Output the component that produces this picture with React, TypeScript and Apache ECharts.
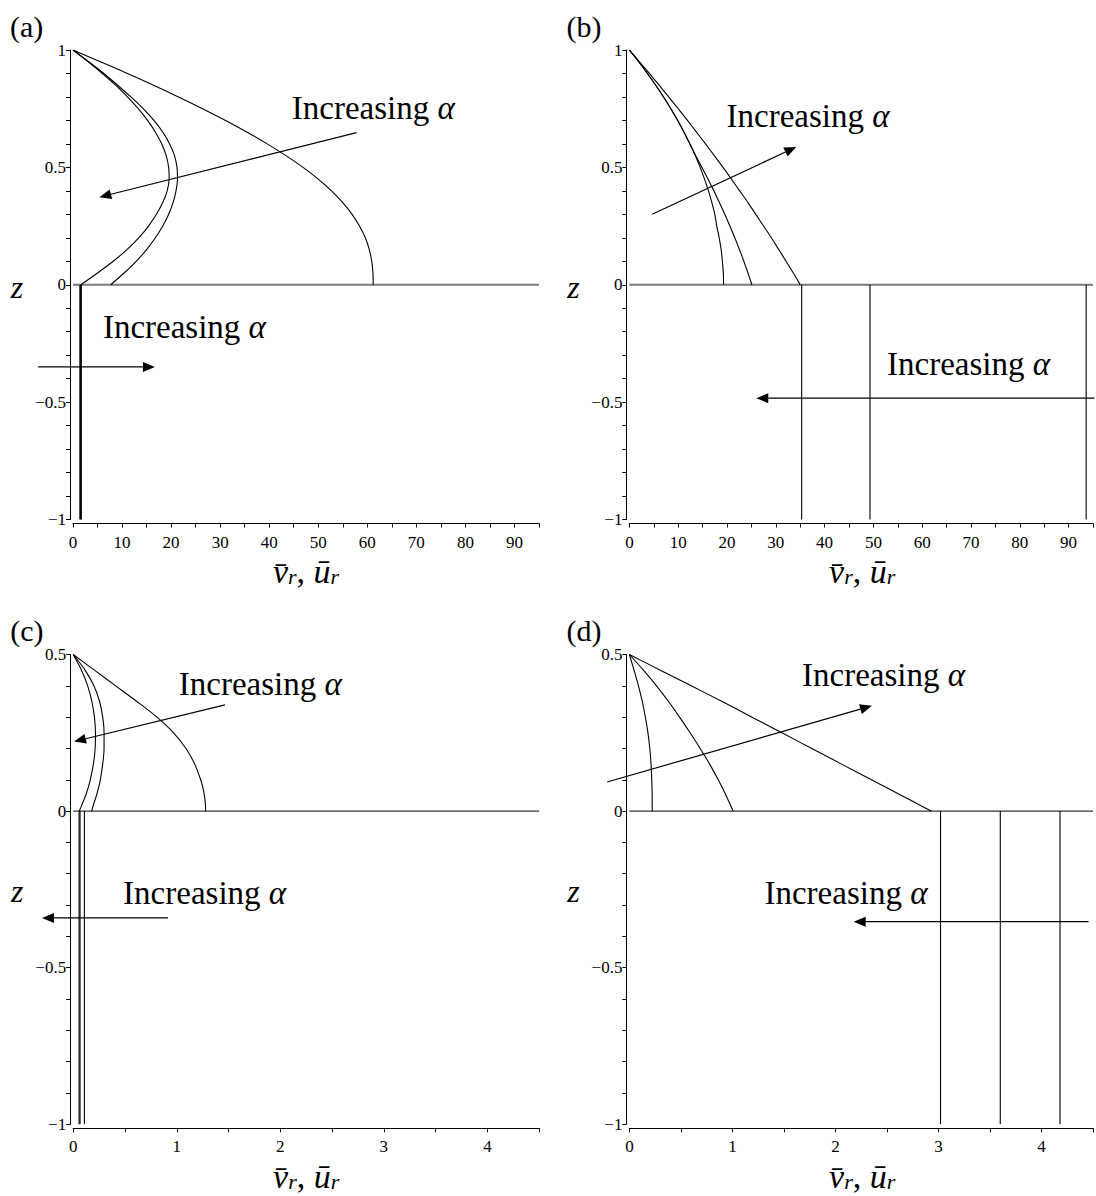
import React, { useEffect, useRef } from "react";
import * as echarts from "echarts";

const SERIF = "Liberation Serif, DejaVu Serif, serif";

// Heights at which the upper-layer profiles are sampled
const zUpperAB = [0, 0.05, 0.1, 0.15, 0.2, 0.25, 0.3, 0.35, 0.4, 0.45, 0.5, 0.55, 0.6, 0.65, 0.7, 0.75, 0.8, 0.85, 0.9, 0.95, 1];
const zUpperCD = [0, 0.025, 0.05, 0.075, 0.1, 0.15, 0.2, 0.25, 0.3, 0.35, 0.4, 0.45, 0.5];

// (a) upper-layer profiles, v at each zUpperAB
const aProfile1 = [1.6, 5.0, 8.2, 11.0, 13.4, 15.4, 17.0, 18.3, 19.2, 19.6, 19.5, 19.0, 18.1, 16.8, 15.2, 13.3, 11.1, 8.7, 6.0, 3.1, 0];
const aProfile2 = [7.7, 10.4, 12.9, 15.0, 16.8, 18.3, 19.5, 20.4, 21.0, 21.3, 21.2, 20.7, 19.7, 18.3, 16.5, 14.3, 11.8, 9.1, 6.3, 3.2, 0];
const aProfile3 = [61.2, 61.15, 60.9, 60.4, 59.6, 58.4, 56.9, 55.0, 52.7, 50.0, 46.9, 43.4, 39.6, 35.5, 31.1, 26.4, 21.5, 16.4, 11.1, 5.6, 0];
// (a) lower-layer (uniform) values
const aLower = [1.4, 1.55, 1.7];

// (b)
const bProfile1 = [19.3, 19.25, 19.05, 18.8, 18.4, 17.9, 17.5, 16.9, 16.2, 15.4, 14.5, 13.5, 12.4, 11.2, 9.9, 8.5, 7.0, 5.4, 3.7, 1.9, 0];
const bProfile2 = [25.1, 24.3, 23.45, 22.55, 21.6, 20.6, 19.55, 18.45, 17.3, 16.1, 14.85, 13.6, 12.4, 11.2, 9.9, 8.5, 7.0, 5.4, 3.7, 1.9, 0];
const bProfile3 = [35.0, 33.6, 32.1, 30.6, 29.1, 27.5, 25.9, 24.3, 22.6, 20.9, 19.2, 17.4, 15.6, 13.75, 11.9, 10.0, 8.05, 6.1, 4.1, 2.05, 0];
const bLower = [35.3, 49.3, 93.6];

// (c)
const cProfile1 = [0.059, 0.09, 0.12, 0.145, 0.165, 0.195, 0.212, 0.215, 0.205, 0.18, 0.14, 0.08, 0];
const cProfile2 = [0.178, 0.2, 0.225, 0.245, 0.262, 0.285, 0.298, 0.298, 0.285, 0.255, 0.2, 0.115, 0];
const cProfile3 = [1.279, 1.276, 1.267, 1.252, 1.231, 1.174, 1.089, 0.969, 0.809, 0.615, 0.41, 0.205, 0];
const cLower = [0.057, 0.066, 0.108];

// (d)
const dProfile1 = [0.222, 0.221, 0.221, 0.219, 0.217, 0.21, 0.198, 0.18, 0.155, 0.125, 0.088, 0.045, 0];
const dProfile2 = [1.007, 0.973, 0.938, 0.901, 0.862, 0.779, 0.687, 0.589, 0.487, 0.38, 0.263, 0.136, 0];
const dProfile3 = [2.93, 2.785, 2.64, 2.495, 2.35, 2.06, 1.77, 1.48, 1.19, 0.9, 0.6, 0.3, 0];
const dLower = [3.02, 3.6, 4.18];

type Pt = [number, number];

interface Panel {
  label: string;
  grid: { left: number; top: number; width: number; height: number };
  xMax: number;
  xStep: number;
  xLabelStep: number;
  zMin: number;
  zMax: number;
  zeroColor: string;
  zeroWidth: number;
  zUpper: number[];
  upper: number[][];
  lower: number[];
  arrows: { from: Pt; to: Pt }[];
  notes: Pt[];
}

const panels: Panel[] = [
  {
    label: "(a)",
    grid: { left: 73, top: 50, width: 466, height: 469.5 },
    xMax: 95, xStep: 5, xLabelStep: 10, zMin: -1, zMax: 1,
    zeroColor: "#7a7a7a", zeroWidth: 1.8,
    zUpper: zUpperAB, upper: [aProfile1, aProfile2, aProfile3], lower: aLower,
    arrows: [
      { from: [57.8, 0.648], to: [5.36, 0.373] },
      { from: [-7.1, -0.35], to: [16.7, -0.35] },
    ],
    notes: [[44.6, 0.752], [6.1, -0.18]],
  },
  {
    label: "(b)",
    grid: { left: 629.4, top: 50, width: 465.6, height: 469.5 },
    xMax: 95, xStep: 5, xLabelStep: 10, zMin: -1, zMax: 1,
    zeroColor: "#7a7a7a", zeroWidth: 1.8,
    zUpper: zUpperAB, upper: [bProfile1, bProfile2, bProfile3], lower: bLower,
    arrows: [
      { from: [4.67, 0.3], to: [34.2, 0.587] },
      { from: [95.3, -0.483], to: [26.0, -0.483] },
    ],
    notes: [[19.9, 0.719], [52.8, -0.338]],
  },
  {
    label: "(c)",
    grid: { left: 73.2, top: 654.5, width: 466, height: 469.8 },
    xMax: 4.5, xStep: 0.5, xLabelStep: 1, zMin: -1, zMax: 0.5,
    zeroColor: "#000000", zeroWidth: 1,
    zUpper: zUpperCD, upper: [cProfile1, cProfile2, cProfile3], lower: cLower,
    arrows: [
      { from: [1.466, 0.339], to: [0.008, 0.222] },
      { from: [0.915, -0.341], to: [-0.301, -0.341] },
    ],
    notes: [[1.02, 0.406], [0.482, -0.261]],
  },
  {
    label: "(d)",
    grid: { left: 629.4, top: 654.5, width: 465.6, height: 469.8 },
    xMax: 4.5, xStep: 0.5, xLabelStep: 1, zMin: -1, zMax: 0.5,
    zeroColor: "#000000", zeroWidth: 1,
    zUpper: zUpperCD, upper: [dProfile1, dProfile2, dProfile3], lower: dLower,
    arrows: [
      { from: [-0.216, 0.093], to: [2.354, 0.336] },
      { from: [4.457, -0.353], to: [2.177, -0.353] },
    ],
    notes: [[1.676, 0.435], [1.311, -0.261]],
  },
];

const zLabel = (v: number) => {
  const r = Math.round(v * 2) / 2;
  if (Math.abs(v - r) > 1e-6) return "";
  if (r === 0) return "0";
  return (r < 0 ? "\u2212" : "") + String(Math.abs(r));
};

function buildOption() {
  const grid: any[] = [];
  const xAxis: any[] = [];
  const yAxis: any[] = [];
  const series: any[] = [];

  panels.forEach((p, i) => {
    grid.push({ ...p.grid, containLabel: false });
    xAxis.push({
      type: "value",
      gridIndex: i,
      min: 0,
      max: p.xMax,
      interval: p.xStep,
      offset: 4,
      axisLine: { onZero: false, lineStyle: { color: "#000", width: 1 } },
      axisTick: { length: 4, lineStyle: { color: "#000", width: 1 } },
      splitLine: { show: false },
      axisLabel: {
        color: "#000",
        fontFamily: SERIF,
        fontSize: 17,
        margin: 10,
        formatter: (v: number) => {
          const r = Math.round(v / p.xLabelStep) * p.xLabelStep;
          return Math.abs(v - r) < 1e-6 ? String(Math.round(r)) : "";
        },
      },
    });
    yAxis.push({
      type: "value",
      gridIndex: i,
      min: p.zMin,
      max: p.zMax,
      interval: 0.1,
      offset: 3,
      axisLine: { onZero: false, lineStyle: { color: "#000", width: 1 } },
      axisTick: { length: 4, lineStyle: { color: "#000", width: 1 } },
      splitLine: { show: false },
      axisLabel: { color: "#000", fontFamily: SERIF, fontSize: 17, margin: 4, formatter: zLabel },
    });

    const base = { type: "line", xAxisIndex: i, yAxisIndex: i, showSymbol: false, symbol: "none", silent: true };
    series.push({
      ...base,
      data: [[0, 0], [p.xMax, 0]],
      lineStyle: { color: p.zeroColor, width: p.zeroWidth },
      z: 1,
    });
    p.upper.forEach((vals) => {
      series.push({
        ...base,
        smooth: 0.3,
        data: vals.map((v, k) => [v, p.zUpper[k]]),
        lineStyle: { color: "#000", width: 1.1 },
        z: 3,
      });
    });
    p.lower.forEach((v) => {
      series.push({
        ...base,
        data: [[v, 0], [v, p.zMin]],
        lineStyle: { color: "#000", width: 1.1 },
        z: 3,
      });
    });
  });

  return {
    animation: false,
    backgroundColor: "#ffffff",
    textStyle: { fontFamily: SERIF },
    grid,
    xAxis,
    yAxis,
    series,
  };
}

const noteRich = {
  n: { fontFamily: SERIF, fontSize: 33, fill: "#000" },
  g: { fontFamily: SERIF, fontSize: 33, fontStyle: "italic", fill: "#000" },
};

const titleRich = {
  m: { fontFamily: SERIF, fontSize: 34, fontStyle: "italic", fill: "#000", lineHeight: 32, verticalAlign: "middle" },
  c: { fontFamily: SERIF, fontSize: 34, fill: "#000", lineHeight: 32, verticalAlign: "middle" },
  s: { fontFamily: SERIF, fontSize: 22, fontStyle: "italic", fill: "#000", lineHeight: 10, verticalAlign: "bottom" },
};

function arrowShapes(p0: number[], p1: number[]) {
  const dx = p1[0] - p0[0];
  const dy = p1[1] - p0[1];
  const len = Math.hypot(dx, dy) || 1;
  const ux = dx / len;
  const uy = dy / len;
  const L = 12;
  const W = 5;
  const bx = p1[0] - ux * L;
  const by = p1[1] - uy * L;
  return [
    {
      type: "line",
      silent: true,
      shape: { x1: p0[0], y1: p0[1], x2: bx, y2: by },
      style: { stroke: "#000", lineWidth: 1.2 },
      z: 10,
    },
    {
      type: "polygon",
      silent: true,
      shape: {
        points: [
          [p1[0], p1[1]],
          [bx - uy * W, by + ux * W],
          [bx + uy * W, by - ux * W],
        ],
      },
      style: { fill: "#000" },
      z: 10,
    },
  ];
}

function textEl(x: number, y: number, text: string, extra: any, align = "left") {
  return {
    type: "text",
    silent: true,
    x,
    y,
    z: 10,
    style: {
      text,
      fill: "#000",
      fontFamily: SERIF,
      align,
      verticalAlign: "middle",
      textAlign: align,
      textVerticalAlign: "middle",
      ...extra,
    },
  };
}

function buildGraphic(chart: echarts.ECharts) {
  const els: any[] = [];
  panels.forEach((p, i) => {
    const px = (pt: number[]) => chart.convertToPixel({ gridIndex: i }, pt) as number[];
    p.arrows.forEach((a) => els.push(...arrowShapes(px(a.from), px(a.to))));
    p.notes.forEach((n) => {
      const q = px(n);
      els.push(textEl(q[0], q[1], "{n|Increasing }{g|\u03b1}", { rich: noteRich }));
    });
    const g = p.grid;
    // panel tag
    els.push(textEl(g.left - 63, g.top - 24, p.label, { fontFamily: SERIF, fontSize: 30 }));
    // vertical axis name
    const mid = px([0, (p.zMin + p.zMax) / 2]);
    els.push(
      textEl(g.left - 56, mid[1] + 2, "z", { fontFamily: SERIF, fontSize: 32, fontStyle: "italic" }, "center")
    );
    // horizontal axis name
    const cx = g.left + g.width / 2;
    els.push(
      textEl(cx, g.top + g.height + 52, "{m|v\u0304}{s|r}{c|, }{m|u\u0304}{s|r}", { rich: titleRich }, "center")
    );
  });
  return els;
}

export default function App() {
  const ref = useRef<HTMLDivElement | null>(null);
  useEffect(() => {
    if (!ref.current) return;
    const chart = echarts.init(ref.current, undefined, { renderer: "svg" });
    chart.setOption(buildOption() as any);
    chart.setOption({ graphic: { elements: buildGraphic(chart) } } as any);
    return () => chart.dispose();
  }, []);
  return (
    <div
      ref={ref}
      style={{ position: "absolute", left: 0, top: 0, width: 1096, height: 1196, background: "#fff" }}
    />
  );
}
